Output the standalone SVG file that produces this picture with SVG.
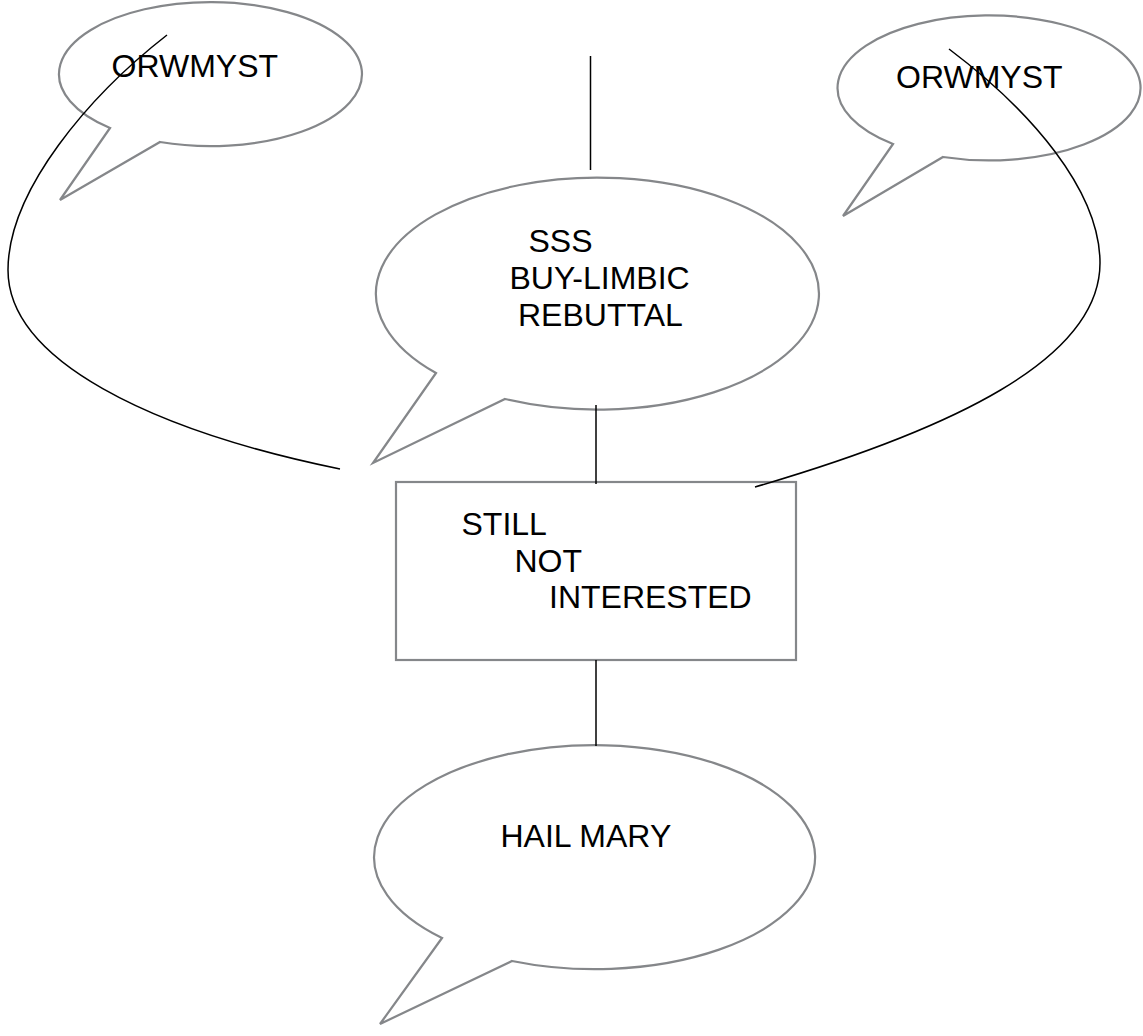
<svg xmlns="http://www.w3.org/2000/svg" width="1143" height="1036" viewBox="0 0 1143 1036">
<style>
.shape{fill:#ffffff;stroke:#85878a;stroke-width:2.2;stroke-linejoin:miter}
.lbl{font-family:"Liberation Sans",Arial,sans-serif;font-size:32px;fill:#000000}
.conn{fill:none;stroke:#000000;stroke-width:1.5}
</style>
<rect x="0" y="0" width="1143" height="1036" fill="#ffffff"/>
<g id="node-orwmyst-left">
<path class="shape" d="M110,128 L60,200 L160,142 A151.5,72 0 1 0 110,128 Z"/>
<text class="lbl" x="111.5" y="77">ORWMYST</text>
</g>
<g id="node-orwmyst-right">
<path class="shape" d="M893,144 L843,216 L943,157 A151.5,72.5 0 1 0 893,144 Z"/>
<text class="lbl" x="896" y="88">ORWMYST</text>
</g>
<g id="node-rebuttal">
<path class="shape" d="M436,373 L373,463 L505,399 A221.5,116 0 1 0 436,373 Z"/>
<text class="lbl" x="528.5" y="252">SSS</text>
<text class="lbl" x="509.5" y="289">BUY-LIMBIC</text>
<text class="lbl" x="518" y="326">REBUTTAL</text>
</g>
<g id="node-still-not-interested">
<rect class="shape" x="396" y="482" width="400" height="178"/>
<text class="lbl" x="461.5" y="535">STILL</text>
<text class="lbl" x="514.5" y="572">NOT</text>
<text class="lbl" x="549" y="608">INTERESTED</text>
</g>
<g id="node-hail-mary">
<path class="shape" d="M442,938 L380,1024 L512,961 A220.5,112 0 1 0 442,938 Z"/>
<text class="lbl" x="500.5" y="847">HAIL MARY</text>
</g>
<g id="connectors">
<line class="conn" x1="590.5" y1="56" x2="590.5" y2="170"/>
<line class="conn" x1="596" y1="405" x2="596" y2="484"/>
<line class="conn" x1="596" y1="660" x2="596" y2="746"/>
<path class="conn" d="M167,35 C90,95 8,190 8,270 C8,360 150,430 340,469"/>
<path class="conn" d="M949,49 C1030,110 1100,190 1100,263 C1100,360 950,430 755,487"/>
</g>
</svg>
